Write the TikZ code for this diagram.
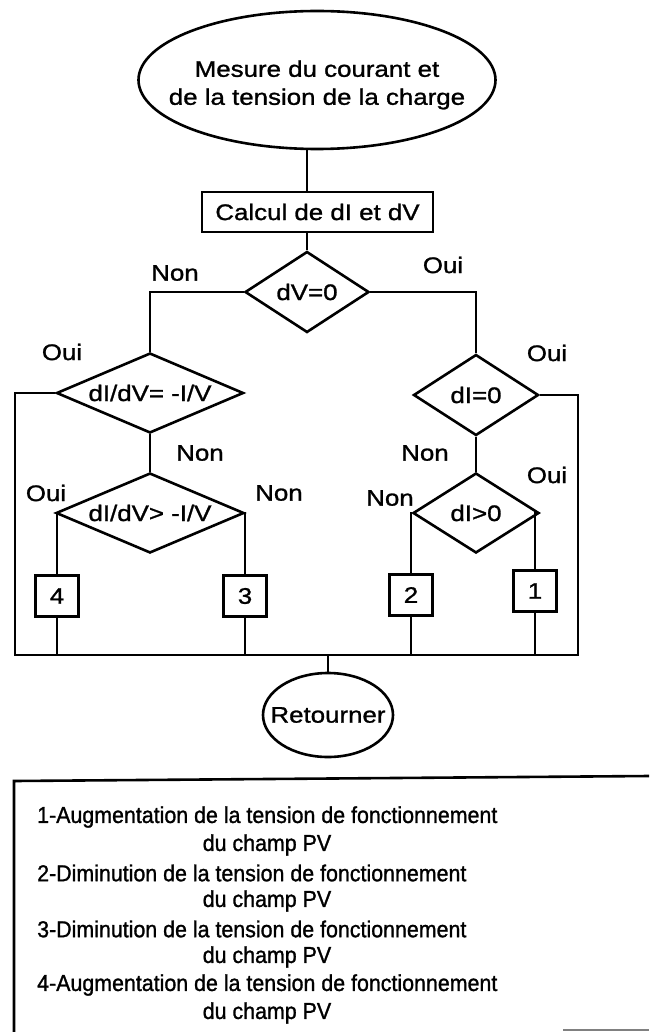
\documentclass[tikz,border=0pt]{standalone}
\usepackage{fontspec}
\setmainfont{Liberation Sans}
\newfontfamily\flowfont{Liberation Sans}[FakeStretch=1.15, FakeBold=1.2]
\newfontfamily\lgdfont{Liberation Sans}[FakeStretch=0.93, FakeBold=1.2]
\usetikzlibrary{shapes.geometric}
\tikzset{
  every node/.style={font=\flowfont\fontsize{22.5}{28}\selectfont},
  term/.style={draw, ellipse, line width=2.6pt, inner sep=0pt},
  proc/.style={draw, rectangle, line width=2.6pt, inner sep=0pt},
  test/.style={draw, diamond, line width=2.6pt, inner sep=0pt},
  numbox/.style={draw, rectangle, line width=2.6pt, minimum width=43pt,
                 minimum height=41pt, inner sep=0pt},
  lbl/.style={inner sep=0pt},
  wire/.style={line width=2.6pt},
  lgd/.style={font=\lgdfont\fontsize{23}{28}\selectfont, inner sep=0pt}
}

\begin{document}
\begin{tikzpicture}[x=1pt, y=-1pt]
  \useasboundingbox (0,0) rectangle (649,1032);
  % flowchart
  \node[term, minimum width=357pt, minimum height=138pt] (start) at (317,80)
       {\makebox[0pt]{\begin{tabular}{@{}c@{}}\rule{0pt}{30pt}Mesure du courant et\\
        de la tension de la charge\end{tabular}}};
  \node[proc, minimum width=231pt, minimum height=40pt] (calc) at (317.5,212)
       {Calcul de dI et dV};
  \node[test, minimum width=124pt, minimum height=81pt, aspect=1.53] (dv) at (307,292) {dV=0};
  \node[test, minimum width=187pt, minimum height=80pt, aspect=2.34] (eq) at (150,393) {dI/dV= -I/V};
  \node[test, minimum width=188pt, minimum height=80pt, aspect=2.35] (gt) at (150,513) {dI/dV> -I/V};
  \node[test, minimum width=125pt, minimum height=81pt, aspect=1.54] (dz) at (476,395) {dI=0};
  \node[test, minimum width=126pt, minimum height=80pt, aspect=1.57] (dp) at (476,513) {dI>0};
  \node[numbox] (b4) at (57,596) {4};
  \node[numbox] (b3) at (245,596) {3};
  \node[numbox] (b2) at (411,595) {2};
  \node[numbox] (b1) at (535,591) {1};
  \node[term, minimum width=130pt, minimum height=84pt] (back) at (328,715)
       {\makebox[0pt]{Retourner}};
  \coordinate (busL) at (15,655);
  \coordinate (busR) at (578,655);
  % labels
  \node[lbl] (n1) at (175,273) {Non};
  \node[lbl] (o1) at (443,265) {Oui};
  \node[lbl] (o2) at (62,352) {Oui};
  \node[lbl] (n2) at (200,453) {Non};
  \node[lbl] (o3) at (46,493) {Oui};
  \node[lbl] (n3) at (279,493) {Non};
  \node[lbl] (o4) at (547,353) {Oui};
  \node[lbl] (n4) at (425,453) {Non};
  \node[lbl] (o5) at (547,475) {Oui};
  \node[lbl] (n5) at (390,498) {Non};
  % connectors
  \draw[wire] (start.south -| dv) -- (calc.north -| dv);
  \draw[wire] (calc.south -| dv) -- (dv.north);
  \draw[wire] (dv.west) -| (eq.north);
  \draw[wire] (dv.east) -| (dz.north);
  \draw[wire] (eq.south) -- (gt.north);
  \draw[wire] (dz.south) -- (dp.north);
  \draw[wire] (eq.west) -| (busL) -- (busR) |- (dz.east);
  \draw[wire] (gt.west) -| (b4.north);
  \draw[wire] (gt.east) -| (b3.north);
  \draw[wire] (dp.west) -| (b2.north);
  \draw[wire] (dp.east) -| (b1.north);
  \foreach \b in {b1,b2,b3,b4}
    \draw[wire] (\b.south) -- (\b.south |- busL);
  \draw[wire] (back.north |- busL) -- (back.north);
  % legend
  \draw[wire] (14,1032) -- (14,781) -- (649,776);
  \draw[gray, line width=2pt] (563,1030) -- (649,1030);
  \foreach \n/\txt [count=\i from 0] in {1/Augmentation, 2/Diminution, 3/Diminution, 4/Augmentation} {
    \node[lgd, anchor=west] (item\n) at (37,817+56*\i) {\n-\txt\ de la tension de fonctionnement};
    \node[lgd] (pv\n) at (267,845+56*\i) {du champ PV};
  }
\end{tikzpicture}
\end{document}
